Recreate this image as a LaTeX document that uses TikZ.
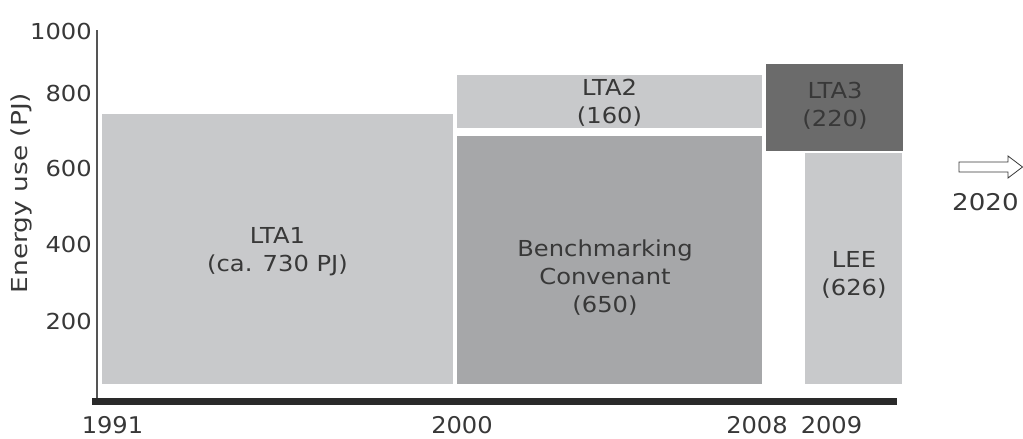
\documentclass[tikz,border=0pt]{standalone}
\usepackage{fontspec}
\setmainfont{DejaVu Sans}
\definecolor{txt}{HTML}{383838}
\definecolor{light}{HTML}{C8C9CB}
\definecolor{mid}{HTML}{A6A7A9}
\definecolor{dark}{HTML}{6B6B6B}
\definecolor{axisgray}{HTML}{555555}
\definecolor{barblack}{HTML}{2A2A2A}
\tikzset{
  lbl/.style={text=txt, font=\fontsize{22}{28}\selectfont, align=center, inner sep=0pt, xscale=1.1},
  tick/.style={text=txt, font=\fontsize{22}{26}\selectfont, inner sep=0pt, xscale=1.1},
  yr/.style={text=txt, font=\fontsize{23}{27}\selectfont, inner sep=0pt, xscale=1.05},
}
\begin{document}
\begin{tikzpicture}[x=1pt,y=-1pt]
\useasboundingbox (0,0) rectangle (1023,439);
% blocks
\fill[light] (102,114) rectangle (453,384);
\fill[mid] (457,136) rectangle (762,384);
\fill[light] (457,75) rectangle (762,128);
\fill[dark] (766,64) rectangle (903,151);
\fill[light] (805,153) rectangle (902,384);
% block labels
\node[lbl] (lta1) at (277.5,252) {LTA1\\(ca. 730 PJ)};
\node[lbl] (bench) at (605,278) {Benchmarking\\Convenant\\(650)};
\node[lbl] (lta2) at (609.5,103) {LTA2\\(160)};
\node[lbl] (lta3) at (835,106) {LTA3\\(220)};
\node[lbl] (lee) at (854,275) {LEE\\(626)};
% axes
\draw[axisgray, line width=1.2pt] (97,30) -- (97,398);
\fill[barblack] (92,398) rectangle (897,405);
% y ticks
\node[tick, anchor=east] (t1000) at (92,31) {1000};
\node[tick, anchor=east] (t800) at (92,93) {800};
\node[tick, anchor=east] (t600) at (92,168) {600};
\node[tick, anchor=east] (t400) at (92,244) {400};
\node[tick, anchor=east] (t200) at (92,321) {200};
\node[text=txt, font=\fontsize{22}{26}\selectfont, inner sep=0pt, rotate=90] (ylab) at (21,193) {\scalebox{1.2}[1]{Energy use (PJ)}};
% years
\node[yr] (y1991) at (112.5,425) {1991};
\node[yr] (y2000) at (462,425) {2000};
\node[yr] (y2008) at (757,425) {2008};
\node[yr] (y2009) at (831.5,425) {2009};
% arrow
\draw[txt, line width=0.8pt, fill=white] (959,162) -- (1008,162) -- (1008,156) -- (1022.5,167) -- (1008,178) -- (1008,172) -- (959,172) -- cycle;
\node[yr, anchor=west, xscale=1.08] (y2020) at (952,202) {2020};
\end{tikzpicture}
\end{document}
